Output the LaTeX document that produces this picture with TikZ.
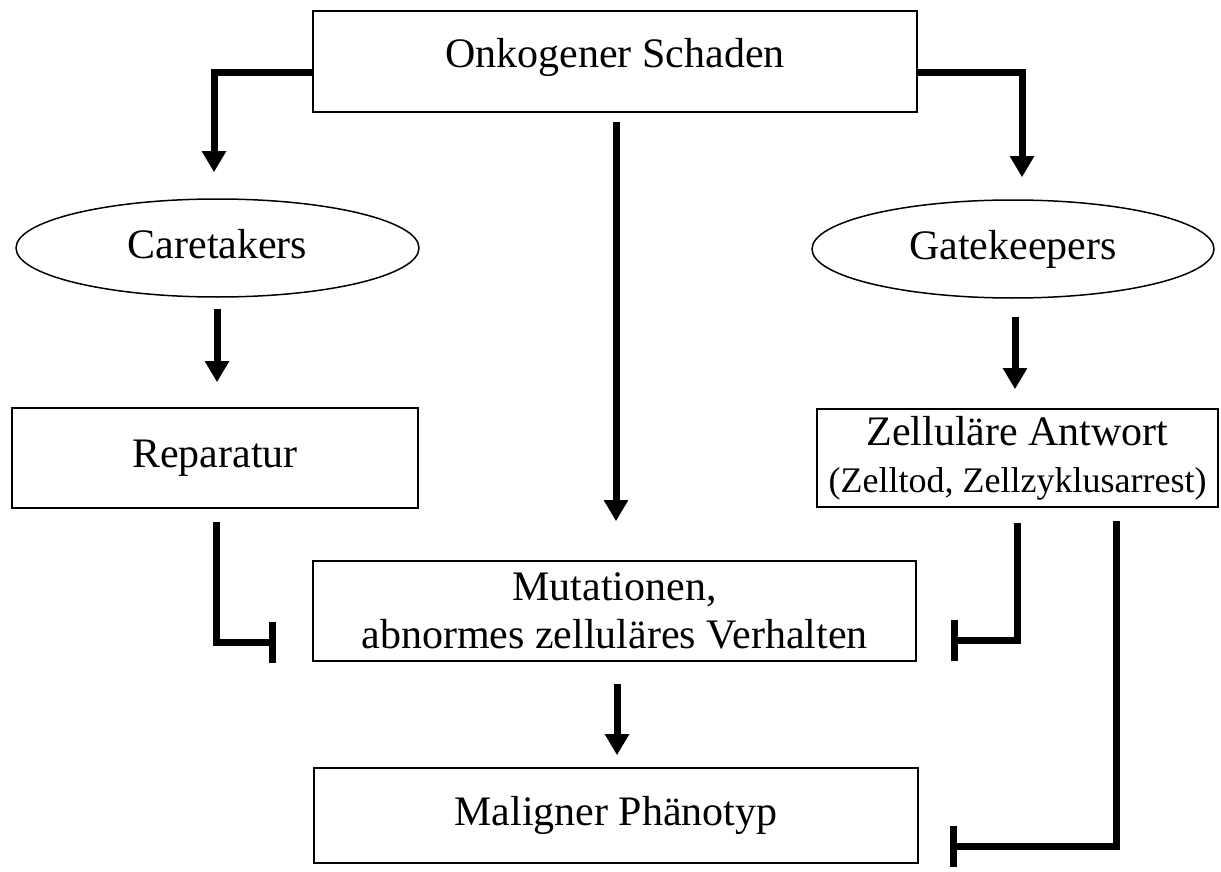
\documentclass[tikz,border=0pt]{standalone}
\usepackage{fontspec}
\setmainfont{Liberation Serif}
\usetikzlibrary{arrows.meta,shapes.geometric}
\begin{document}
\begin{tikzpicture}[x=1pt,y=-1pt,
  box/.style={draw, line width=1.6pt, rectangle, inner sep=0pt, align=center, font=\fontsize{42}{48}\selectfont},
  oval/.style={draw, line width=1.5pt, ellipse, inner sep=0pt, font=\fontsize{42}{48}\selectfont},
  arr/.style={line width=7pt, -{Triangle[width=23pt,length=21pt]}, line join=miter},
  inh/.style={line width=7pt, -{Bar[width=41pt]}, line join=miter}]
\useasboundingbox (0,0) rectangle (1221,872);
\node[box, minimum width=604pt, minimum height=101pt, text height=29pt, text depth=16pt] (onk) at (615,61.5) {Onkogener Schaden};
\node[oval, minimum width=403pt, minimum height=98pt, text height=29pt, text depth=9pt] (care) at (217.5,248) {Caretakers};
\node[oval, minimum width=402pt, minimum height=98pt] (gate) at (1013,249) {Gatekeepers};
\node[box, minimum width=406pt, minimum height=100pt] (rep) at (215,458) {Reparatur};
\node[box, minimum width=401pt, minimum height=98pt] (zell) at (1017.5,458) {Zelluläre Antwort\\[-1pt]{\fontsize{36}{40}\selectfont (Zelltod, Zellzyklusarrest)}};
\node[box, minimum width=603pt, minimum height=100pt] (mut) at (614.5,611) {Mutationen,\\abnormes zelluläres Verhalten};
\node[box, minimum width=604pt, minimum height=95pt] (mal) at (616,815.5) {Maligner Phänotyp};
% arrows
\draw[arr] ([yshift=-11.5pt]onk.west) -| ([xshift=-3.5pt,yshift=26pt]care.north);
\draw[arr] ([yshift=-11.5pt]onk.east) -| ([xshift=9pt,yshift=22pt]gate.north);
\draw[arr] ([xshift=-0.5pt,yshift=-11pt]care.south) -- ([xshift=2pt,yshift=25pt]rep.north);
\draw[arr] ([xshift=2pt,yshift=-18pt]gate.south) -- ([xshift=-2.5pt,yshift=19pt]zell.north);
\draw[arr] ([xshift=1pt,yshift=-9pt]onk.south) -- ([xshift=1.5pt,yshift=39pt]mut.north);
\draw[arr] ([xshift=2.5pt,yshift=-22pt]mut.south) -- ([xshift=1pt,yshift=12pt]mal.north);
% inhibitions
\draw[inh] ([xshift=1pt,yshift=-13pt]rep.south) |- ([xshift=-36pt,yshift=-31pt]mut.west);
\draw[inh] ([yshift=-15pt]zell.south) |- ([xshift=34pt,yshift=-29pt]mut.east);
\draw[inh] ([xshift=98.5pt,yshift=-13pt]zell.south) |- ([xshift=31pt,yshift=-30.5pt]mal.east);
\end{tikzpicture}
\end{document}
